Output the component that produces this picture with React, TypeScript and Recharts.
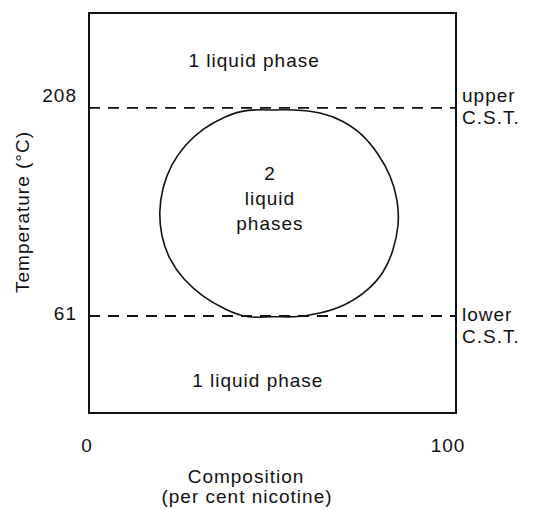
import {
  Label,
  Line,
  LineChart,
  ReferenceArea,
  ReferenceDot,
  ReferenceLine,
  XAxis,
  YAxis,
} from "recharts";

// two-liquid region (nicotine / water), clockwise from the top
const composition = [
  49.6, 56.1, 62.9, 68.9, 74.4, 78.7, 82.0, 83.9, 84.2, 82.8, 80.1, 75.5, 69.5,
  62.9, 56.1, 49.6, 43.3, 37.1, 31.1, 25.9, 22.1, 19.9, 19.3, 20.2, 22.6, 26.4,
  31.3, 37.1, 43.3, 49.6,
];
const temperature = [
  206.5, 206.5, 204.4, 198.7, 188.8, 175.4, 159.9, 142.9, 125.3, 107.6, 92.1,
  78.7, 68.8, 63.1, 60.5, 60.5, 60.5, 66.0, 75.1, 87.1, 101.3, 117.5, 134.5,
  151.4, 167.7, 181.8, 193.1, 201.6, 206.2, 206.5,
];
const xTicks = [0, 100];
const yTicks = [61, 208];
const upperCST = 208;
const lowerCST = 61;
const tempDomain = [-7.5, 275];

const loop = composition.map((x, i) => ({ x, t: temperature[i] }));

const FONT = "'Liberation Sans', Arial, Helvetica, sans-serif";
const INK = "#111";
const txt = { fontFamily: FONT, fontSize: 19, letterSpacing: 1, fill: INK };

const YTick = ({ x, y, payload }: any) => (
  <text
    x={x}
    y={y + (payload.value === upperCST ? -12 : -3)}
    textAnchor="end"
    dominantBaseline="central"
    {...txt}
  >
    {payload.value}
  </text>
);

const XTick = ({ x, y, payload }: any) => (
  <text
    x={x + (payload.value === 0 ? -2 : -8)}
    y={y + 32}
    textAnchor="middle"
    dominantBaseline="central"
    {...txt}
  >
    {payload.value}
  </text>
);

const sideLabel =
  (top: string, dyTop: number, dyBottom: number) =>
  ({ viewBox }: any) => {
    const x = viewBox.x + viewBox.width + 6;
    return (
      <g>
        <text x={x} y={viewBox.y + dyTop} dominantBaseline="central" {...txt}>
          {top}
        </text>
        <text x={x} y={viewBox.y + dyBottom} dominantBaseline="central" {...txt}>
          C.S.T.
        </text>
      </g>
    );
  };

const note = (x: number, y: number, value: string) => (
  <ReferenceDot
    key={value + y}
    x={x}
    y={y}
    r={0}
    fill="none"
    stroke="none"
    label={{ value, position: "center", ...txt }}
  />
);

export default function App() {
  return (
    <div style={{ position: "absolute", left: 0, top: 0, background: "#fff" }}>
      <LineChart
        width={553}
        height={511}
        margin={{ top: 13, right: 97, left: 9, bottom: 58 }}
      >
        <XAxis
          type="number"
          dataKey="x"
          domain={[0, 100]}
          ticks={xTicks}
          axisLine={false}
          tickLine={false}
          tickSize={0}
          tickMargin={0}
          height={40}
          tick={<XTick />}
        >
          <Label
            content={({ viewBox }: any) => (
              <g>
                <text
                  x={viewBox.x + 157}
                  y={476}
                  textAnchor="middle"
                  dominantBaseline="central"
                  {...txt}
                >
                  Composition
                </text>
                <text
                  x={viewBox.x + 158}
                  y={496}
                  textAnchor="middle"
                  dominantBaseline="central"
                  {...txt}
                >
                  (per cent nicotine)
                </text>
              </g>
            )}
          />
        </XAxis>
        <YAxis
          type="number"
          dataKey="t"
          domain={tempDomain}
          ticks={yTicks}
          axisLine={false}
          tickLine={false}
          tickSize={0}
          tickMargin={12}
          width={80}
          tick={<YTick />}
        >
          <Label
            content={({ viewBox }: any) => {
              const cx = viewBox.x + 13;
              const cy = viewBox.y + viewBox.height / 2 - 1;
              return (
                <text
                  x={cx}
                  y={cy}
                  transform={`rotate(-90 ${cx} ${cy})`}
                  textAnchor="middle"
                  dominantBaseline="central"
                  {...txt}
                >
                  Temperature (°C)
                </text>
              );
            }}
          />
        </YAxis>
        <ReferenceArea
          x1={0}
          x2={100}
          y1={tempDomain[0]}
          y2={tempDomain[1]}
          fill="none"
          fillOpacity={0}
          stroke={INK}
          strokeWidth={2}
        />
        <ReferenceLine
          y={upperCST}
          stroke={INK}
          strokeWidth={1.8}
          strokeDasharray="11 8"
          label={sideLabel("upper", -12, 10)}
        />
        <ReferenceLine
          y={lowerCST}
          stroke={INK}
          strokeWidth={1.8}
          strokeDasharray="11 8"
          label={sideLabel("lower", -2, 20)}
        />
        <Line
          data={loop}
          dataKey="t"
          type="natural"
          stroke={INK}
          strokeWidth={1.6}
          dot={false}
          activeDot={false}
          isAnimationActive={false}
        />
        {note(45.0, 241.9, "1 liquid phase")}
        {note(46.0, 15.8, "1 liquid phase")}
        {note(49.3, 162.1, "2")}
        {note(49.3, 144.4, "liquid")}
        {note(49.3, 126.7, "phases")}
      </LineChart>
    </div>
  );
}
